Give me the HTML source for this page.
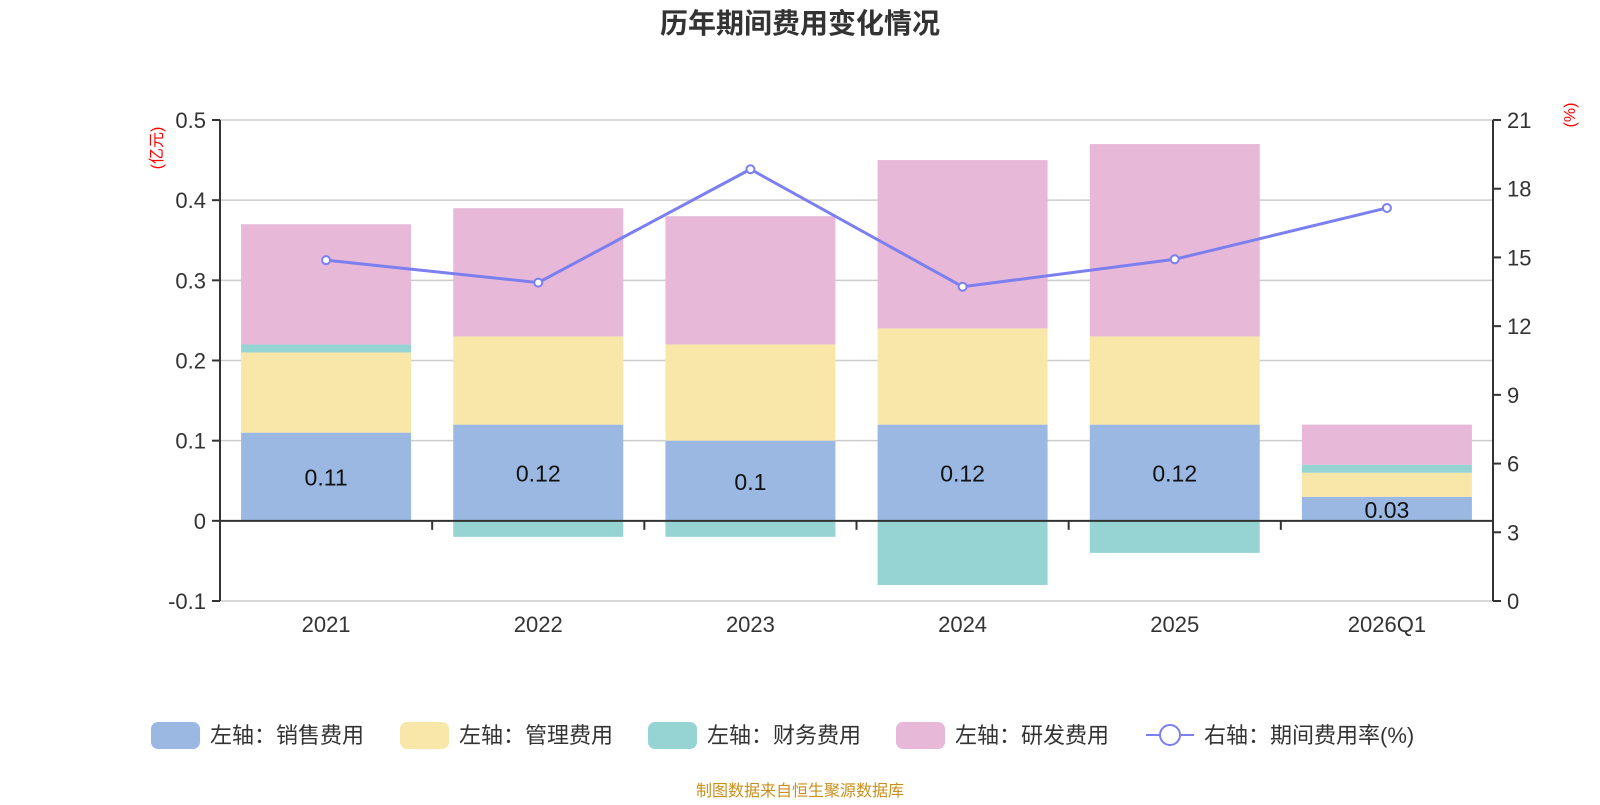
<!DOCTYPE html>
<html><head><meta charset="utf-8"><style>
body{margin:0;background:#fff;}
svg{font-family:"Liberation Sans","Noto Sans CJK SC",sans-serif;}
</style></head><body>
<svg id="c" width="1600" height="800">
<text x="800" y="33" text-anchor="middle" font-size="28" font-weight="bold" fill="#333">历年期间费用变化情况</text>
<text transform="translate(162,148) rotate(-90)" text-anchor="middle" font-size="16" fill="red">(亿元)</text>
<text transform="translate(1575,115) rotate(-90)" text-anchor="middle" font-size="16" fill="red">(%)</text>
<g id="g"></g>
<text x="800" y="796" text-anchor="middle" font-size="16" fill="#c8901c">制图数据来自恒生聚源数据库</text>
</svg>
<script>
const categories=["2021","2022","2023","2024","2025","2026Q1"];
const sales=[0.11,0.12,0.10,0.12,0.12,0.03];
const admin=[0.10,0.11,0.12,0.12,0.11,0.03];
const finance=[0.01,-0.02,-0.02,-0.08,-0.04,0.01];
const rnd=[0.15,0.16,0.16,0.21,0.24,0.05];
const rate=[14.88,13.9,18.85,13.72,14.92,17.16];
const leftTicks=[-0.1,0,0.1,0.2,0.3,0.4,0.5];
const rightTicks=[0,3,6,9,12,15,18,21];
const NS="http://www.w3.org/2000/svg";
const g=document.getElementById('g');
const L=220,R=1493,T=120,B=601;
const band=(R-L)/categories.length, bw=170;
const yL=v=>B-(v+0.1)/0.6*(B-T);
const yR=v=>B-v/21*(B-T);
const xc=i=>L+band*(i+0.5);
function el(tag,a){const e=document.createElementNS(NS,tag);for(const k in a)e.setAttribute(k,a[k]);g.appendChild(e);return e;}
leftTicks.forEach(v=>{
 const y=yL(v);
 if(v!==0){const gl=el('line',{x1:L,x2:R,y1:y,y2:y,stroke:'#ccc','stroke-width':1.5});
 
 }
 el('line',{x1:L-8,x2:L,y1:y,y2:y,stroke:'#333','stroke-width':2});
 const t=el('text',{x:L-14,y:y+8,'text-anchor':'end','font-size':22,fill:'#333'});t.textContent=v===0?'0':String(v);
 
 
});
rightTicks.forEach(v=>{
 const y=yR(v);
 el('line',{x1:R,x2:R+8,y1:y,y2:y,stroke:'#333','stroke-width':2});
 const t=el('text',{x:R+14,y:y+8,'font-size':22,fill:'#333'});t.textContent=v;
 
 
});
const cols=['#9bb8e2','#f8e7a8','#96d4d4','#e7b8d8'];
function rect(x,y0,y1,c,name){const r=el('rect',{x:x,y:Math.min(y0,y1),width:bw,height:Math.abs(y1-y0),fill:c});
 
 }
categories.forEach((c,i)=>{
 const x=xc(i)-bw/2;
 let pos=0,neg=0;
 [[sales,'bar-sales'],[admin,'bar-admin'],[finance,'bar-finance'],[rnd,'bar-rnd']].forEach(([arr,n],k)=>{
  const v=arr[i];
  if(v>=0){rect(x,yL(pos),yL(pos+v),cols[k],n);pos+=v;}else{rect(x,yL(neg),yL(neg+v),cols[k],n);neg+=v;}
 });
 const t=el('text',{x:xc(i),y:(yL(0)+yL(sales[i]))/2+9,'text-anchor':'middle','font-size':23,fill:'#111'});t.textContent=String(sales[i]);
 
 
 const xl=el('text',{x:xc(i),y:B+31,'text-anchor':'middle','font-size':22,fill:'#333'});xl.textContent=c;
 
 
 if(i>0)el('line',{x1:L+band*i,x2:L+band*i,y1:yL(0),y2:yL(0)+9,stroke:'#333','stroke-width':2});
});
el('line',{x1:L,x2:L,y1:T,y2:B,stroke:'#333','stroke-width':2});
el('line',{x1:R,x2:R,y1:T,y2:B,stroke:'#333','stroke-width':2});
const za=el('line',{x1:L,x2:R,y1:yL(0),y2:yL(0),stroke:'#333','stroke-width':2});


const pl=el('polyline',{points:rate.map((v,i)=>xc(i)+','+yR(v)).join(' '),fill:'none',stroke:'#7b7ff0','stroke-width':3});


rate.forEach((v,i)=>{const p=el('circle',{cx:xc(i),cy:yR(v),r:4,fill:'#fff',stroke:'#7b7ff0','stroke-width':2});
 
 });
const leg=[['左轴：销售费用',151],['左轴：管理费用',400],['左轴：财务费用',648],['左轴：研发费用',896]];
leg.forEach(([s,x],k)=>{
 const r=el('rect',{x:x,y:722,width:49,height:27,rx:7,fill:cols[k]});
 
 
 const t=el('text',{x:x+59,y:743,'font-size':22,fill:'#333'});t.textContent=s;
 
 
});
el('line',{x1:1146,x2:1194,y1:735,y2:735,stroke:'#7b7ff0','stroke-width':2});
el('circle',{cx:1170,cy:735,r:10,fill:'#fff',stroke:'#7b7ff0','stroke-width':2});
const lt=el('text',{x:1204,y:743,'font-size':22,fill:'#333'});lt.textContent='右轴：期间费用率(%)';


</script>
</body></html>
